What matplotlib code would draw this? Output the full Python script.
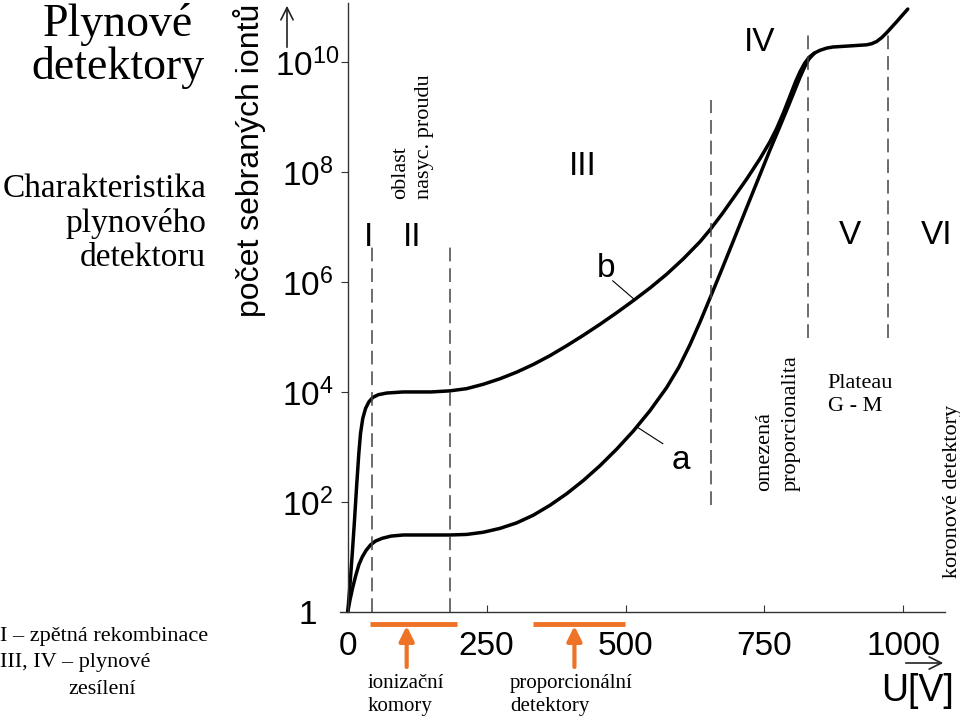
import numpy as np
import matplotlib
matplotlib.use("Agg")
import matplotlib.pyplot as plt
from matplotlib.transforms import blended_transform_factory

plt.rcParams["font.family"] = ["Liberation Sans", "DejaVu Sans"]
plt.rcParams["mathtext.fontset"] = "custom"
plt.rcParams["mathtext.rm"] = "Liberation Sans"
plt.rcParams["mathtext.it"] = "Liberation Sans:italic"

u_b = [0, 4, 8, 12, 16, 20, 23, 27, 32, 38, 45, 55, 70, 100, 150, 184, 214,
       244, 274, 304, 334, 364, 394, 424, 454, 484, 514, 544, 574, 604, 634,
       653, 674, 693, 718, 742, 760, 772, 784, 796, 806, 814, 822, 830, 840,
       850, 862, 873, 904, 934, 943, 952, 961, 970, 988, 1008]
exp_b = [0, 0.5, 1.05, 1.65, 2.3, 2.9, 3.25, 3.52, 3.7, 3.82, 3.9, 3.95, 3.98,
         4.0, 4.0, 4.02, 4.06, 4.14, 4.24, 4.36, 4.5, 4.66, 4.84, 5.03, 5.23,
         5.44, 5.66, 5.89, 6.14, 6.42, 6.73, 6.96, 7.24, 7.51, 7.87, 8.24,
         8.55, 8.79, 9.07, 9.38, 9.64, 9.82, 9.97, 10.08, 10.16, 10.21, 10.25,
         10.27, 10.29, 10.31, 10.33, 10.37, 10.44, 10.53, 10.73, 10.96]

u_a = [0, 4, 9, 14, 20, 26, 33, 41, 50, 62, 78, 100, 184, 214, 244, 274, 304,
       334, 364, 394, 424, 454, 484, 514, 544, 574, 596, 616, 634, 653, 673,
       693, 718, 742, 760, 778, 792, 804, 814, 822, 830, 840]
exp_a = [0, 0.22, 0.45, 0.65, 0.86, 1.0, 1.12, 1.22, 1.29, 1.34, 1.38, 1.4,
         1.4, 1.41, 1.45, 1.52, 1.62, 1.76, 1.94, 2.15, 2.39, 2.66, 2.96, 3.29,
         3.66, 4.08, 4.45, 4.86, 5.27, 5.73, 6.22, 6.72, 7.35, 7.95, 8.4, 8.83,
         9.17, 9.47, 9.72, 9.9, 10.05, 10.16]

x_ticks = [0, 250, 500, 750, 1000]
y_ticks = [1, 1e2, 1e4, 1e6, 1e8, 1e10]
y_tick_labels = ["1", "$10^2$", "$10^4$", "$10^6$", "$10^8$", "$10^{10}$"]

# region boundaries: (voltage, lower exp, upper exp)
boundaries = [(43, 0, 6.67), (184, 0, 6.67), (653, 1.95, 9.3),
              (828, 4.98, 10.6), (972, 4.98, 10.6)]
regions = ["I", "II", "III", "IV", "V", "VI"]
region_pos = [(37, 6.8), (116, 6.8), (423, 8.1), (742, 10.35), (904, 6.85), (1060, 6.85)]

orange = "#EE7326"
serif = ["Liberation Serif", "DejaVu Serif"]

fig = plt.figure(figsize=(9.6, 7.22), dpi=100)
ax = fig.add_axes([340 / 960, 1 - 612 / 722, 605 / 960, 609 / 722])

counts_b = 10.0 ** np.array(exp_b)
counts_a = 10.0 ** np.array(exp_a)
ax.plot(u_b, counts_b, color="black", lw=2.5, solid_capstyle="round",
        solid_joinstyle="round")
ax.plot(u_a, counts_a, color="black", lw=2.5, solid_capstyle="round",
        solid_joinstyle="round")

for xv, lo, hi in boundaries:
    ax.plot([xv, xv], [10 ** lo, 10 ** hi], color="#444444", lw=1.1,
            linestyle=(0, (9, 4.5)))

ax.set_yscale("log")
ax.set_xlim(-14, 1075)
ax.set_ylim(1, 10 ** 11.07)
ax.spines["top"].set_visible(False)
ax.spines["right"].set_visible(False)
ax.spines["left"].set_position(("data", 0))
for s in ("left", "bottom"):
    ax.spines[s].set_color("#333333")
    ax.spines[s].set_linewidth(1.0)

ax.set_xticks(x_ticks)
ax.set_xticklabels([str(v) for v in x_ticks])
ax.set_yticks(y_ticks)
ax.set_yticklabels(y_tick_labels)
ax.yaxis.set_minor_locator(matplotlib.ticker.NullLocator())
ax.tick_params(axis="x", direction="in", length=5, pad=14, labelsize=24,
               color="#333333")
ax.tick_params(axis="y", direction="out", length=5, pad=24, labelsize=24,
               color="#333333")
for lab in ax.get_yticklabels():
    lab.set_horizontalalignment("center")

# region numerals
for name, (xv, ev) in zip(regions, region_pos):
    ax.text(xv, 10 ** ev, name, fontsize=24, ha="center", va="center")

# curve labels with pointers
ax.text(465, 10 ** 6.25, "b", fontsize=24, ha="center", va="center")
ax.plot([477, 516], [10 ** 6.02, 10 ** 5.68], color="black", lw=0.8)
ax.text(599, 10 ** 2.75, "a", fontsize=24, ha="center", va="center")
ax.plot([567, 521], [10 ** 3.06, 10 ** 3.36], color="black", lw=0.8)

# rotated region notes
ax.text(95, 10 ** 7.5, "oblast", fontsize=16, family=serif, rotation=90,
        ha="center", va="bottom")
ax.text(138, 10 ** 7.5, "nasyc. proudu", fontsize=16, family=serif, rotation=90,
        ha="center", va="bottom")
ax.text(750, 10 ** 2.2, "omezená", fontsize=16, family=serif, rotation=90,
        ha="center", va="bottom")
ax.text(798, 10 ** 2.2, "proporcionalita", fontsize=16, family=serif,
        rotation=90, ha="center", va="bottom")
ax.text(864, 10 ** 3.95, "Plateau\nG - M", fontsize=16, family=serif,
        ha="left", va="center", linespacing=1.3)
ax.text(1088, 10 ** 0.62, "koronové detektory", fontsize=16, family=serif,
        rotation=90, ha="center", va="bottom")

# orange ranges below the axis
tr = blended_transform_factory(ax.transData, fig.transFigure)
ranges = [(40, 196, 106), (333, 499, 408)]
for x0, x1, xm in ranges:
    ax.plot([x0, x1], [1 - 624 / 722] * 2, color=orange, lw=3.5,
            transform=tr, clip_on=False, solid_capstyle="butt")
    ax.annotate("", xy=(xm, 1 - 626 / 722), xytext=(xm, 1 - 667 / 722),
                xycoords=tr, textcoords=tr,
                arrowprops=dict(arrowstyle="-|>", color=orange, lw=3,
                                mutation_scale=22, shrinkA=0, shrinkB=0))
fig.text(368 / 960, 1 - 695 / 722, "ionizační\nkomory", fontsize=15,
         family=serif, ha="left", va="center", linespacing=1.3)
fig.text(510 / 960, 1 - 695 / 722, "proporcionální\ndetektory", fontsize=15,
         family=serif, ha="left", va="center", linespacing=1.3)

# axis titles and arrows
fig.text(250 / 960, 1 - 160 / 722, "počet sebraných iontů", fontsize=23,
         rotation=90, ha="center", va="center")
fig.text(918 / 960, 1 - 691 / 722, "U[V]", fontsize=27, ha="center",
         va="center")
fig.patches.append(matplotlib.patches.FancyArrowPatch(
    (287 / 960, 1 - 50 / 722), (287 / 960, 1 - 3 / 722),
    transform=fig.transFigure, arrowstyle="->", mutation_scale=22,
    color="#222222", lw=1.2))
fig.patches.append(matplotlib.patches.FancyArrowPatch(
    (903 / 960, 1 - 663 / 722), (946 / 960, 1 - 663 / 722),
    transform=fig.transFigure, arrowstyle="->", mutation_scale=22,
    color="#222222", lw=1.2))

# left side headings
fig.text(118 / 960, 1 - 46 / 722, "Plynové\ndetektory", fontsize=33,
         family=serif, ha="center", va="center", linespacing=1.0)
fig.text(206 / 960, 1 - 223 / 722, "Charakteristika\nplynového\ndetektoru",
         fontsize=24, family=serif, ha="right", va="center", linespacing=1.15)
fig.text(0, 1 - 637 / 722, "I – zpětná rekombinace", fontsize=16,
         family=serif, ha="left", va="center")
fig.text(0, 1 - 662 / 722, "III, IV – plynové", fontsize=16,
         family=serif, ha="left", va="center")
fig.text(68 / 960, 1 - 689 / 722, "zesílení", fontsize=16,
         family=serif, ha="left", va="center")

fig.savefig("out.png", dpi=100)
